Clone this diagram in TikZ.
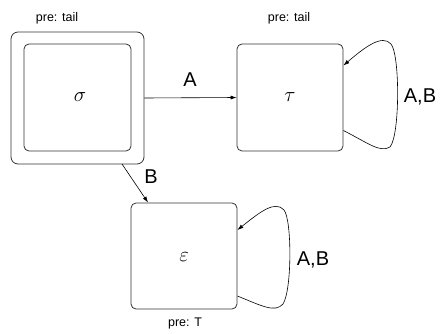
\documentclass[tikz,border=0pt]{standalone}
\usepackage{fontspec}
\setmainfont{Liberation Sans}
\usetikzlibrary{arrows.meta,calc}
\begin{document}
\begin{tikzpicture}[x=1pt,y=-1pt,
  statebox/.style={draw=black!80, line width=0.8pt, rounded corners=5pt, inner sep=0pt},
  conn/.style={draw=black, line width=0.6pt, -{Latex[length=6pt,width=4pt]}},
  prelbl/.style={font=\fontsize{12.5}{14}\selectfont},
  edgelbl/.style={font=\fontsize{20}{22}\selectfont},
  mathlbl/.style={font=\fontsize{21}{24}\selectfont}]
\useasboundingbox (0,0) rectangle (441,334);
% sigma
\node[statebox, rounded corners=7pt, minimum width=133pt, minimum height=132pt] (sigout) at (77.5,98) {};
\node[statebox, minimum width=107pt, minimum height=107pt] (sigin) at (77.5,97.5) {};
\node[mathlbl] (siglbl) at (80,97) {$\sigma$};
\node[prelbl] (sigpre) at (57,18) {pre: tail};
% tau
\node[statebox, minimum width=106pt, minimum height=107pt] (tau) at (290,97.5) {};
\node[mathlbl] (taulbl) at (290,97) {$\tau$};
\node[prelbl] (taupre) at (289,18) {pre: tail};
% epsilon
\node[statebox, minimum width=106pt, minimum height=106pt] (eps) at (184,256) {};
\node[mathlbl] (epslbl) at (184,257) {$\varepsilon$};
\node[prelbl] (epspre) at (185,323) {pre: T};
% A edge
\draw[conn] (sigout.east) -- (tau.west);
\node[edgelbl] (lblA) at (190,80) {A};
% B edge
\coordinate (bstart) at (122,164);
\coordinate (bend) at (148,202.5);
\draw[conn] (bstart) -- (bend);
\node[edgelbl] (lblB) at (151,177) {B};
% tau self loop
\coordinate (tloopS) at ($(tau.east)+(0,33)$);
\coordinate (tloopE) at ($(tau.east)+(0,-32)$);
\draw[conn] (tloopS) .. controls (368,143) and (380,153) .. (390,147)
  .. controls (400,135) and (400,55) .. (391,44)
  .. controls (382,34) and (365,47) .. (tloopE);
\node[edgelbl] (taulbl2) at (420,97) {A,B};
% eps self loop
\coordinate (eloopS) at ($(eps.east)+(0,40)$);
\coordinate (eloopE) at ($(eps.east)+(0,-26)$);
\draw[conn] (eloopS) .. controls (262,306) and (275,313) .. (283,304)
  .. controls (292,290) and (292,220) .. (284,210)
  .. controls (275,200) and (260,212) .. (eloopE);
\node[edgelbl] (epslbl2) at (313,260) {A,B};
\end{tikzpicture}
\end{document}
